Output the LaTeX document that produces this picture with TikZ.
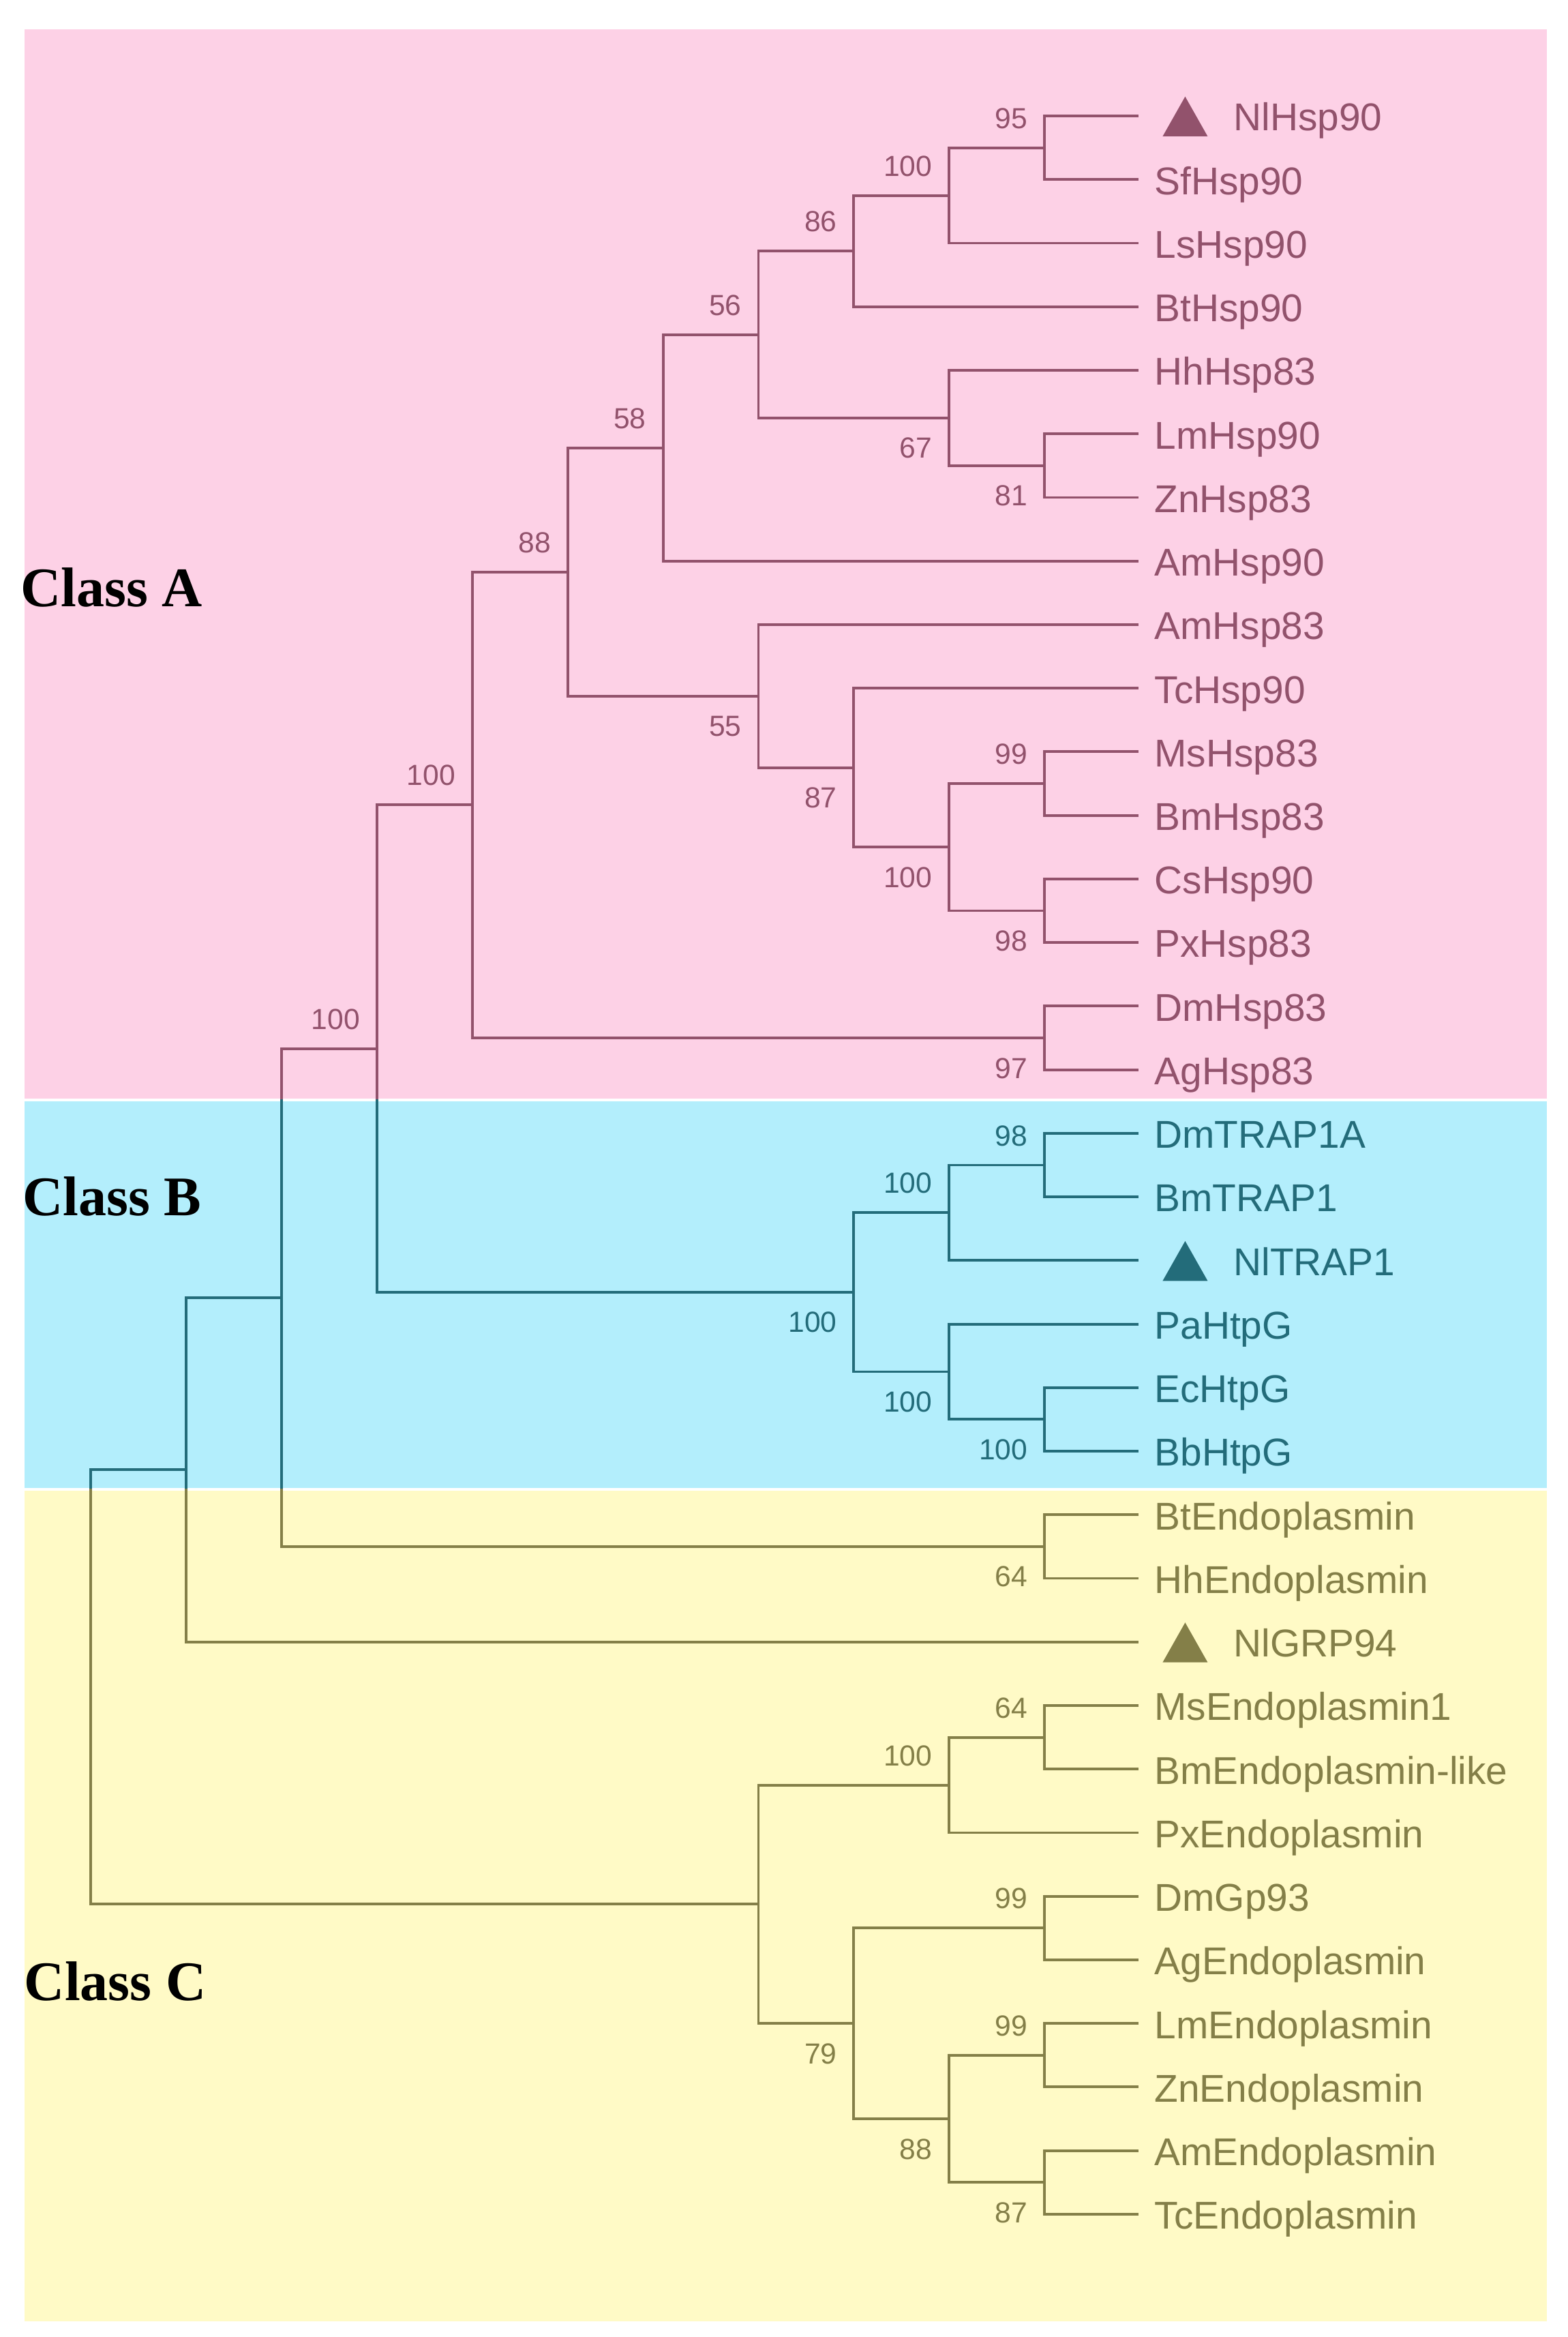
\documentclass[tikz,border=0pt]{standalone}
\usepackage{fontspec}
\setmainfont{Liberation Sans}
\newfontfamily\classfont{Liberation Serif}
\definecolor{bgpink}{RGB}{253,209,230}
\definecolor{bgblue}{RGB}{179,238,252}
\definecolor{bgyellow}{RGB}{255,250,198}
\definecolor{pinkline}{RGB}{146,82,108}
\definecolor{blueline}{RGB}{35,108,122}
\definecolor{yellowline}{RGB}{132,127,72}
\newcommand\treeedges{%
  \draw[edge] (L0) -| (A95) |- (L1);
  \draw[edge] (A95) -| (A100a) |- (L2);
  \draw[edge] (A100a) -| (A86) |- (L3);
  \draw[edge] (L5) -| (A81) |- (L6);
  \draw[edge] (L4) -| (A67) |- (A81);
  \draw[edge] (A86) -| (A56) |- (A67);
  \draw[edge] (A56) -| (A58) |- (L7);
  \draw[edge] (L10) -| (A99) |- (L11);
  \draw[edge] (L12) -| (A98) |- (L13);
  \draw[edge] (A99) -| (A100b) |- (A98);
  \draw[edge] (L9) -| (A87) |- (A100b);
  \draw[edge] (L8) -| (A55) |- (A87);
  \draw[edge] (A58) -| (A88) |- (A55);
  \draw[edge] (L14) -| (A97) |- (L15);
  \draw[edge] (A88) -| (Aroot) |- (A97);
  \draw[edge] (L16) -| (B98) |- (L17);
  \draw[edge] (B98) -| (B100a) |- (L18);
  \draw[edge] (L20) -| (Bht) |- (L21);
  \draw[edge] (L19) -| (B100c) |- (Bht);
  \draw[edge] (B100a) -| (Broot) |- (B100c);
  \draw[edge] (Aroot) -| (AB) |- (Broot);
  \draw[edge] (L22) -| (C64a) |- (L23);
  \draw[edge] (AB) -| (N189) |- (C64a);
  \draw[edge] (N189) -| (N125) |- (L24);
  \draw[edge] (L25) -| (C64b) |- (L26);
  \draw[edge] (C64b) -| (C100) |- (L27);
  \draw[edge] (L28) -| (C99a) |- (L29);
  \draw[edge] (L30) -| (C99b) |- (L31);
  \draw[edge] (L32) -| (C87) |- (L33);
  \draw[edge] (C99b) -| (C88) |- (C87);
  \draw[edge] (C99a) -| (C79) |- (C88);
  \draw[edge] (C100) -| (Cnode) |- (C79);
  \draw[edge] (N125) -| (Root) |- (Cnode);
}
\begin{document}
\begin{tikzpicture}[x=0.5pt,y=-0.5pt,
  edge/.style={line width=0.9pt},
  leaflab/.style={anchor=base west, inner sep=0pt, font=\fontsize{13}{13}\selectfont},
  boot/.style={anchor=base east, inner sep=0pt, font=\fontsize{9.75}{10}\selectfont},
  classlab/.style={anchor=base west, inner sep=0pt, text=black, font=\classfont\bfseries\fontsize{18.75}{19}\selectfont},
  up/.style={shift={(-11,-13)}},
  dn/.style={shift={(-11,27)}},
  lab/.style={shift={(10.3,10)}},
  tlab/.style={shift={(63.3,10)}}]
\useasboundingbox (0,0) rectangle (1052.3,1568);
\fill[white] (0,0) rectangle (1052.3,1568);
% class backgrounds
\fill[bgpink] (16.5,19.8) rectangle (1038.3,737.3);
\fill[bgblue] (16.5,738.8) rectangle (1038.3,998.4);
\fill[bgyellow] (16.5,1000) rectangle (1038.3,1557.6);
% leaf tips
\coordinate (L0) at (764.2,77.80);
\coordinate (L1) at (764.2,120.46);
\coordinate (L2) at (764.2,163.12);
\coordinate (L3) at (764.2,205.78);
\coordinate (L4) at (764.2,248.44);
\coordinate (L5) at (764.2,291.10);
\coordinate (L6) at (764.2,333.76);
\coordinate (L7) at (764.2,376.42);
\coordinate (L8) at (764.2,419.08);
\coordinate (L9) at (764.2,461.74);
\coordinate (L10) at (764.2,504.40);
\coordinate (L11) at (764.2,547.06);
\coordinate (L12) at (764.2,589.72);
\coordinate (L13) at (764.2,632.38);
\coordinate (L14) at (764.2,675.04);
\coordinate (L15) at (764.2,717.70);
\coordinate (L16) at (764.2,760.36);
\coordinate (L17) at (764.2,803.02);
\coordinate (L18) at (764.2,845.68);
\coordinate (L19) at (764.2,888.34);
\coordinate (L20) at (764.2,931.00);
\coordinate (L21) at (764.2,973.66);
\coordinate (L22) at (764.2,1016.32);
\coordinate (L23) at (764.2,1058.98);
\coordinate (L24) at (764.2,1101.64);
\coordinate (L25) at (764.2,1144.30);
\coordinate (L26) at (764.2,1186.96);
\coordinate (L27) at (764.2,1229.62);
\coordinate (L28) at (764.2,1272.28);
\coordinate (L29) at (764.2,1314.94);
\coordinate (L30) at (764.2,1357.60);
\coordinate (L31) at (764.2,1400.26);
\coordinate (L32) at (764.2,1442.92);
\coordinate (L33) at (764.2,1485.58);
% internal nodes
\coordinate (A95) at (701,99.13);
\coordinate (A100a) at (637,131.13);
\coordinate (A86) at (573,168.45);
\coordinate (A81) at (701,312.43);
\coordinate (A67) at (637,280.44);
\coordinate (A56) at (509,224.44);
\coordinate (A58) at (445,300.43);
\coordinate (A99) at (701,525.73);
\coordinate (A98) at (701,611.05);
\coordinate (A100b) at (637,568.39);
\coordinate (A87) at (573,515.07);
\coordinate (A55) at (509,467.07);
\coordinate (A88) at (381,383.75);
\coordinate (A97) at (701,696.37);
\coordinate (Aroot) at (317,540.06);
\coordinate (B98) at (701,781.69);
\coordinate (B100a) at (637,813.69);
\coordinate (Bht) at (701,952.33);
\coordinate (B100c) at (637,920.34);
\coordinate (Broot) at (573,867.01);
\coordinate (AB) at (253,703.54);
\coordinate (C64a) at (701,1037.65);
\coordinate (N189) at (189,870.59);
\coordinate (N125) at (125,986.12);
\coordinate (C64b) at (701,1165.63);
\coordinate (C100) at (637,1197.63);
\coordinate (C99a) at (701,1293.61);
\coordinate (C99b) at (701,1378.93);
\coordinate (C87) at (701,1464.25);
\coordinate (C88) at (637,1421.59);
\coordinate (C79) at (573,1357.60);
\coordinate (Cnode) at (509,1277.61);
\coordinate (Root) at (61,1131.86);
% ---------- class A (pink) ----------
\begin{scope}[color=pinkline]
  \begin{scope}
    \clip (0,0) rectangle (1052.3,738);
    \treeedges
  \end{scope}
  \fill ([shift={(31.2,-13)}]L0) -- ++(15.1,26.7) -- ++(-30.2,0) -- cycle;
  \node[leaflab] (t0) at ([tlab]L0) {NlHsp90};
  \node[leaflab] (t1) at ([lab]L1) {SfHsp90};
  \node[leaflab] (t2) at ([lab]L2) {LsHsp90};
  \node[leaflab] (t3) at ([lab]L3) {BtHsp90};
  \node[leaflab] (t4) at ([lab]L4) {HhHsp83};
  \node[leaflab] (t5) at ([lab]L5) {LmHsp90};
  \node[leaflab] (t6) at ([lab]L6) {ZnHsp83};
  \node[leaflab] (t7) at ([lab]L7) {AmHsp90};
  \node[leaflab] (t8) at ([lab]L8) {AmHsp83};
  \node[leaflab] (t9) at ([lab]L9) {TcHsp90};
  \node[leaflab] (t10) at ([lab]L10) {MsHsp83};
  \node[leaflab] (t11) at ([lab]L11) {BmHsp83};
  \node[leaflab] (t12) at ([lab]L12) {CsHsp90};
  \node[leaflab] (t13) at ([lab]L13) {PxHsp83};
  \node[leaflab] (t14) at ([lab]L14) {DmHsp83};
  \node[leaflab] (t15) at ([lab]L15) {AgHsp83};
  \node[boot] (bA95) at ([up]A95) {95};
  \node[boot] (bA100a) at ([up]A100a) {100};
  \node[boot] (bA86) at ([up]A86) {86};
  \node[boot] (bA56) at ([up]A56) {56};
  \node[boot] (bA58) at ([up]A58) {58};
  \node[boot] (bA88) at ([up]A88) {88};
  \node[boot] (bAroot) at ([up]Aroot) {100};
  \node[boot] (bA81) at ([dn]A81) {81};
  \node[boot] (bA67) at ([dn]A67) {67};
  \node[boot] (bA55) at ([dn]A55) {55};
  \node[boot] (bA87) at ([dn]A87) {87};
  \node[boot] (bA100b) at ([dn]A100b) {100};
  \node[boot] (bA99) at ([up]A99) {99};
  \node[boot] (bA98) at ([dn]A98) {98};
  \node[boot] (bA97) at ([dn]A97) {97};
  \node[boot] (bAB) at ([up]AB) {100};
\end{scope}
% ---------- class B (blue) ----------
\begin{scope}[color=blueline]
  \begin{scope}
    \clip (0,738) rectangle (1052.3,999.2);
    \treeedges
  \end{scope}
  \node[leaflab] (t16) at ([lab]L16) {DmTRAP1A};
  \node[leaflab] (t17) at ([lab]L17) {BmTRAP1};
  \fill ([shift={(31.2,-13)}]L18) -- ++(15.1,26.7) -- ++(-30.2,0) -- cycle;
  \node[leaflab] (t18) at ([tlab]L18) {NlTRAP1};
  \node[leaflab] (t19) at ([lab]L19) {PaHtpG};
  \node[leaflab] (t20) at ([lab]L20) {EcHtpG};
  \node[leaflab] (t21) at ([lab]L21) {BbHtpG};
  \node[boot] (bB98) at ([up]B98) {98};
  \node[boot] (bB100a) at ([up]B100a) {100};
  \node[boot] (bBroot) at ([dn]Broot) {100};
  \node[boot] (bB100c) at ([dn]B100c) {100};
  \node[boot] (bBht) at ([dn]Bht) {100};
\end{scope}
% ---------- class C (yellow) ----------
\begin{scope}[color=yellowline]
  \begin{scope}
    \clip (0,999.2) rectangle (1052.3,1568);
    \treeedges
  \end{scope}
  \node[leaflab] (t22) at ([lab]L22) {BtEndoplasmin};
  \node[leaflab] (t23) at ([lab]L23) {HhEndoplasmin};
  \fill ([shift={(31.2,-13)}]L24) -- ++(15.1,26.7) -- ++(-30.2,0) -- cycle;
  \node[leaflab] (t24) at ([tlab]L24) {NlGRP94};
  \node[leaflab] (t25) at ([lab]L25) {MsEndoplasmin1};
  \node[leaflab] (t26) at ([lab]L26) {BmEndoplasmin-like};
  \node[leaflab] (t27) at ([lab]L27) {PxEndoplasmin};
  \node[leaflab] (t28) at ([lab]L28) {DmGp93};
  \node[leaflab] (t29) at ([lab]L29) {AgEndoplasmin};
  \node[leaflab] (t30) at ([lab]L30) {LmEndoplasmin};
  \node[leaflab] (t31) at ([lab]L31) {ZnEndoplasmin};
  \node[leaflab] (t32) at ([lab]L32) {AmEndoplasmin};
  \node[leaflab] (t33) at ([lab]L33) {TcEndoplasmin};
  \node[boot] (bC64a) at ([dn]C64a) {64};
  \node[boot] (bC64b) at ([up]C64b) {64};
  \node[boot] (bC100) at ([up]C100) {100};
  \node[boot] (bC99a) at ([up]C99a) {99};
  \node[boot] (bC79) at ([dn]C79) {79};
  \node[boot] (bC99b) at ([up]C99b) {99};
  \node[boot] (bC88) at ([dn]C88) {88};
  \node[boot] (bC87) at ([dn]C87) {87};
\end{scope}
% class labels
\node[classlab] (clA) at (13.5,407) {Class A};
\node[classlab] (clB) at (15,815.7) {Class B};
\node[classlab] (clC) at (16,1342) {Class C};
\end{tikzpicture}
\end{document}
